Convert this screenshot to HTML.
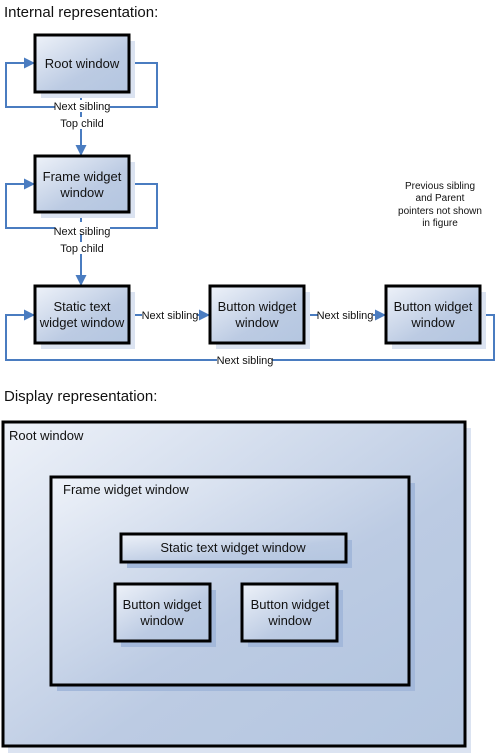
<!DOCTYPE html>
<html><head><meta charset="utf-8"><style>
html,body{margin:0;padding:0;background:#fff}
svg{display:block;font-family:"Liberation Sans",Arial,sans-serif}
</style></head><body>
<svg width="498" height="755" viewBox="0 0 498 755" xmlns="http://www.w3.org/2000/svg">
<defs>
<linearGradient id="g" x1="0" y1="0" x2="1" y2="1">
<stop offset="0" stop-color="#eef2f9"/><stop offset="0.6" stop-color="#bccbe3"/><stop offset="1" stop-color="#b4c6e0"/></linearGradient>
<marker id="a" markerWidth="11" markerHeight="11" refX="10" refY="5.5" orient="auto" markerUnits="userSpaceOnUse"><path d="M0,0 L11,5.5 L0,11 z" fill="#4a7cc0"/></marker>
</defs>
<text x="4" y="17" font-size="15" fill="#111">Internal representation:</text>
<text x="4" y="401" font-size="15" fill="#111">Display representation:</text>

<g fill="none" stroke="#4a7cc0" stroke-width="2">
<path d="M129,63 H157 V107 H6 V63 H34" marker-end="url(#a)"/>
<path d="M81,92 V155" marker-end="url(#a)"/>
<path d="M129,184 H157 V228 H6 V184 H34" marker-end="url(#a)"/>
<path d="M81,212 V285" marker-end="url(#a)"/>
<path d="M129,315 H209" marker-end="url(#a)"/>
<path d="M304,315 H385" marker-end="url(#a)"/>
<path d="M480,315 H494 V360 H6 V315 H34" marker-end="url(#a)"/>
</g>

<g fill="#dbe3f1">
<rect x="41" y="41" width="94" height="57"/><rect x="41" y="162" width="94" height="56"/>
<rect x="41" y="292" width="94" height="57"/><rect x="216" y="292" width="94" height="57"/><rect x="392" y="292" width="94" height="57"/>
<rect x="8" y="428" width="463" height="325"/>
</g>
<g fill="url(#g)" stroke="#000" stroke-width="3">
<rect x="35" y="35" width="94" height="57"/><rect x="35" y="156" width="94" height="56"/>
<rect x="35" y="286" width="94" height="57"/><rect x="210" y="286" width="94" height="57"/><rect x="386" y="286" width="94" height="57"/>
<rect x="3" y="422" width="462" height="324"/>
</g>
<g fill="#a3b8da"><rect x="57" y="483" width="358" height="208"/></g>
<rect x="51" y="477" width="358" height="208" fill="url(#g)" stroke="#000" stroke-width="3"/>
<g fill="#a3b8da"><rect x="127" y="540" width="225" height="28"/><rect x="121" y="590" width="95" height="57"/><rect x="248" y="590" width="95" height="57"/></g>
<g fill="url(#g)" stroke="#000" stroke-width="3">
<rect x="121" y="534" width="225" height="28"/><rect x="115" y="584" width="95" height="57"/><rect x="242" y="584" width="95" height="57"/>
</g>

<g font-size="13" fill="#111" text-anchor="middle">
<text x="82" y="68">Root window</text>
<text x="82" y="181">Frame widget</text><text x="82" y="197">window</text>
<text x="82" y="311">Static text</text><text x="82" y="327">widget window</text>
<text x="257" y="311">Button widget</text><text x="257" y="327">window</text>
<text x="433" y="311">Button widget</text><text x="433" y="327">window</text>
<text x="233" y="552">Static text widget window</text>
<text x="162" y="609">Button widget</text><text x="162" y="625">window</text>
<text x="290" y="609">Button widget</text><text x="290" y="625">window</text>
</g>
<g font-size="13" fill="#111"><text x="9" y="440">Root window</text><text x="63" y="494">Frame widget window</text></g>

<g font-size="11" fill="#111" text-anchor="middle">
<rect x="55" y="100" width="55" height="12" fill="#fff"/>
<text x="82" y="110">Next sibling</text>
<rect x="57" y="117" width="50" height="12" fill="#fff"/>
<text x="82" y="127">Top child</text>
<rect x="55" y="222" width="55" height="12" fill="#fff"/>
<text x="82" y="235">Next sibling</text>
<rect x="57" y="242" width="50" height="12" fill="#fff"/>
<text x="82" y="252">Top child</text>
<rect x="142" y="309" width="55" height="12" fill="#fff"/>
<text x="170" y="319">Next sibling</text>
<rect x="318" y="309" width="55" height="12" fill="#fff"/>
<text x="345" y="319">Next sibling</text>
<rect x="217" y="354" width="55" height="12" fill="#fff"/>
<text x="245" y="364">Next sibling</text>
<text x="440" y="189" font-size="10">Previous sibling</text>
<text x="440" y="201" font-size="10">and Parent</text>
<text x="440" y="214" font-size="10">pointers not shown</text>
<text x="440" y="226" font-size="10">in figure</text>
</g>
</svg>
</body></html>
